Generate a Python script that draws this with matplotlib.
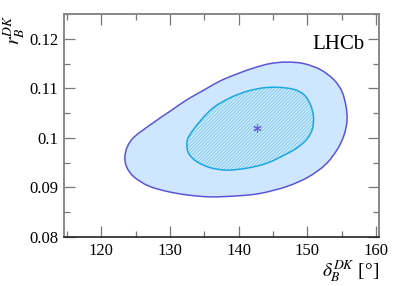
import matplotlib
matplotlib.use("Agg")
import matplotlib.pyplot as plt
from matplotlib.path import Path
from matplotlib.patches import PathPatch
from matplotlib.ticker import MultipleLocator, FormatStrFormatter
import numpy as np

# contours (clockwise, starting at the leftmost point)
outer_x = [123.45, 123.8, 124.9, 127.61, 130.04, 132.47, 134.88, 137.31, 139.74, 142.15,
           144.58, 147.01, 149.43, 151.85, 153.79, 155.0, 155.6, 155.75, 155.3, 154.3,
           152.6, 150.1, 147.01, 143.13, 139.74, 135.85, 132.47, 129.6, 126.9, 124.8,
           123.75]
outer_y = [0.0960, 0.0982, 0.1003, 0.1031, 0.1054, 0.1077, 0.1096, 0.1115, 0.1129, 0.1141,
           0.1150, 0.1153, 0.1150, 0.1138, 0.1118, 0.1094, 0.1064, 0.1035, 0.1005, 0.0976,
           0.0946, 0.0921, 0.0902, 0.0888, 0.0883, 0.0881, 0.0885, 0.0892, 0.0903, 0.0921,
           0.0940]

inner_x = [132.47, 132.75, 134.40, 136.33, 138.76, 141.19, 143.61, 145.8, 148.0, 149.5,
           150.4, 150.85, 150.75, 150.0, 148.7, 147.0, 144.10, 141.19, 138.28, 135.85,
           133.92, 132.75]
inner_y = [0.0986, 0.1003, 0.1034, 0.1061, 0.1081, 0.1094, 0.1101, 0.1102, 0.1098, 0.1087,
           0.1068, 0.1045, 0.1020, 0.0999, 0.0982, 0.0968, 0.0949, 0.0939, 0.0935, 0.0940,
           0.0952, 0.0968]

best_x = [142.65]
best_y = [0.1020]


def smooth_closed_path(xs, ys):
    # closed bezier path through the read points (catmull-rom tangents)
    p = np.column_stack([xs, ys])
    n = len(p)
    verts = [p[0]]
    codes = [Path.MOVETO]
    for i in range(n):
        p0, p1, p2, p3 = p[i - 1], p[i], p[(i + 1) % n], p[(i + 2) % n]
        c1 = p1 + (p2 - p0) / 6.0
        c2 = p2 - (p3 - p1) / 6.0
        verts += [c1, c2, p2]
        codes += [Path.CURVE4] * 3
    verts.append(p[0])
    codes.append(Path.CLOSEPOLY)
    return Path(verts, codes)


plt.rcParams["font.family"] = ["Liberation Serif", "DejaVu Serif"]
plt.rcParams["mathtext.fontset"] = "stix"
plt.rcParams["hatch.linewidth"] = 0.5
plt.rcParams["hatch.color"] = "#5cc0ee"

fig = plt.figure(figsize=(3.99, 2.86), dpi=100)
ax = fig.add_axes([0.1604, 0.1713, 0.7895, 0.7797])

ax.add_patch(PathPatch(smooth_closed_path(outer_x, outer_y), facecolor="#cfe6ff",
                       edgecolor="#5b55d6", lw=1.1, zorder=2))
ax.add_patch(PathPatch(smooth_closed_path(inner_x, inner_y), facecolor="#d2eaff",
                       edgecolor="#5cc0ee", hatch="//////////", lw=0, zorder=3))
ax.add_patch(PathPatch(smooth_closed_path(inner_x, inner_y), facecolor="none",
                       edgecolor="#1aa8e0", lw=1.1, zorder=4))
ax.plot(best_x, best_y, ls="none", marker=(6, 2, 0), ms=6, mew=0.8,
        color="#6a5fd8", zorder=5)

ax.set_xlim(114.6, 160.4)
ax.set_ylim(0.08, 0.125)

ax.xaxis.set_major_locator(MultipleLocator(10))
ax.xaxis.set_minor_locator(MultipleLocator(5))
ax.yaxis.set_major_locator(MultipleLocator(0.01))
ax.yaxis.set_minor_locator(MultipleLocator(0.005))
ax.yaxis.set_major_formatter(FormatStrFormatter("%g"))

ax.tick_params(which="both", direction="in", top=True, right=True,
               labelsize=12, colors="#777777", labelcolor="black", pad=4)
ax.tick_params(which="major", length=8, width=0.9)
ax.tick_params(which="minor", length=4, width=0.9)

for side in ["left", "top", "right"]:
    ax.spines[side].set_color("#888888")
    ax.spines[side].set_linewidth(1.4)
ax.spines["bottom"].set_color("#222222")
ax.spines["bottom"].set_linewidth(1.2)

ax.set_xlabel(r"$\delta_B^{DK}$ [°]", fontsize=14, loc="right", labelpad=0)
ax.set_ylabel(r"$r_B^{DK}$", fontsize=14, loc="top", labelpad=2)

ax.text(0.955, 0.82, "LHCb", transform=ax.transAxes, fontsize=15,
        ha="right", va="bottom")

fig.savefig("out.png", dpi=100)
